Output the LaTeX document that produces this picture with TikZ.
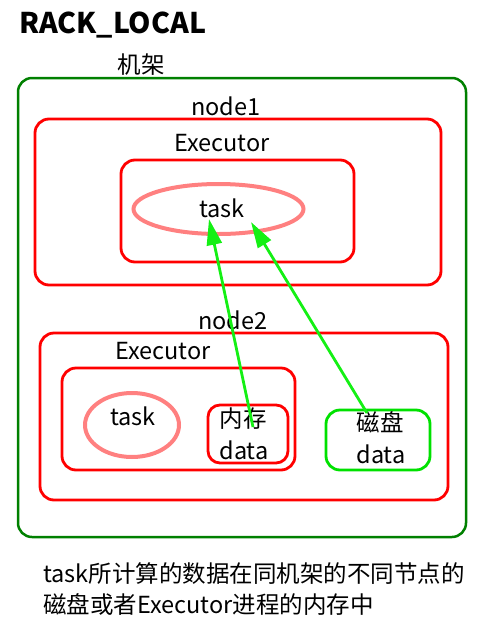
\documentclass[tikz,border=0pt]{standalone}
\usepackage{fontspec}
\setmainfont{Noto Sans CJK SC}
\usetikzlibrary{arrows.meta}
\definecolor{rackgreen}{RGB}{0,128,0}
\definecolor{diskgreen}{RGB}{0,225,0}
\definecolor{arrowgreen}{RGB}{20,240,20}
\definecolor{boxred}{RGB}{255,0,0}
\definecolor{taskpink}{RGB}{255,128,128}
\begin{document}
\begin{tikzpicture}[x=1pt,y=-1pt,
  lbl/.style={font=\fontsize{23.5}{28}\selectfont, inner sep=0pt, anchor=base},
  rack/.style={draw=rackgreen, line width=2.5pt, rounded corners=14pt},
  redbox/.style={draw=boxred, line width=2.8pt, rounded corners=14pt},
  diskbox/.style={draw=diskgreen, line width=2.8pt, rounded corners=14pt},
  taskell/.style={draw=taskpink, line width=4pt},
  link/.style={draw=arrowgreen, line width=2.8pt, -{Triangle[length=26pt,width=15pt]}}
]
\useasboundingbox (0,0) rectangle (492,630);
% title
\node[font=\fontsize{28.5}{32}\selectfont\bfseries, inner sep=0pt, anchor=base west] (title) at (19,33) {RACK\_LOCAL};
\node[lbl] (rackl) at (141,73) {机架};
% boxes
\draw[rack] (18,78) rectangle (466,537);
\node[lbl] (n1l) at (226,115) {node1};
\draw[redbox] (35,119) rectangle (441,285);
\node[lbl] (e1l) at (222,151) {Executor};
\draw[redbox] (121,160) rectangle (354,262);
\draw[taskell] (218.5,209) ellipse (85pt and 25pt);
\node[lbl] (t1) at (222,217) {task};
\node[lbl] (n2l) at (233,329) {node2};
\draw[redbox] (40,333) rectangle (448,500);
\node[lbl] (e2l) at (163,359) {Executor};
\draw[redbox] (62,368) rectangle (295,470);
\draw[taskell] (132,425) ellipse (47pt and 32pt);
\node[lbl] (t2) at (133,425) {task};
\draw[redbox, rounded corners=12pt] (208,405) rectangle (288,463);
\node[lbl] (meml) at (243,427) {内存};
\node[lbl] (memd) at (244,459) {data};
\draw[diskbox] (326,410) rectangle (430,470);
\node[lbl] (diskl) at (380,431) {磁盘};
\node[lbl] (diskd) at (381,463) {data};
% arrows
\coordinate (a1s) at (253,427);
\coordinate (a1e) at (209,219);
\coordinate (a2s) at (367,413);
\coordinate (a2e) at (251,222);
\draw[link] (a1s) -- (a1e);
\draw[link] (a2s) -- (a2e);
% caption
\node[lbl, anchor=base west] (cap1) at (43,582) {task所计算的数据在同机架的不同节点的};
\node[lbl, anchor=base west] (cap2) at (43,613) {磁盘或者Executor进程的内存中};
\end{tikzpicture}
\end{document}
